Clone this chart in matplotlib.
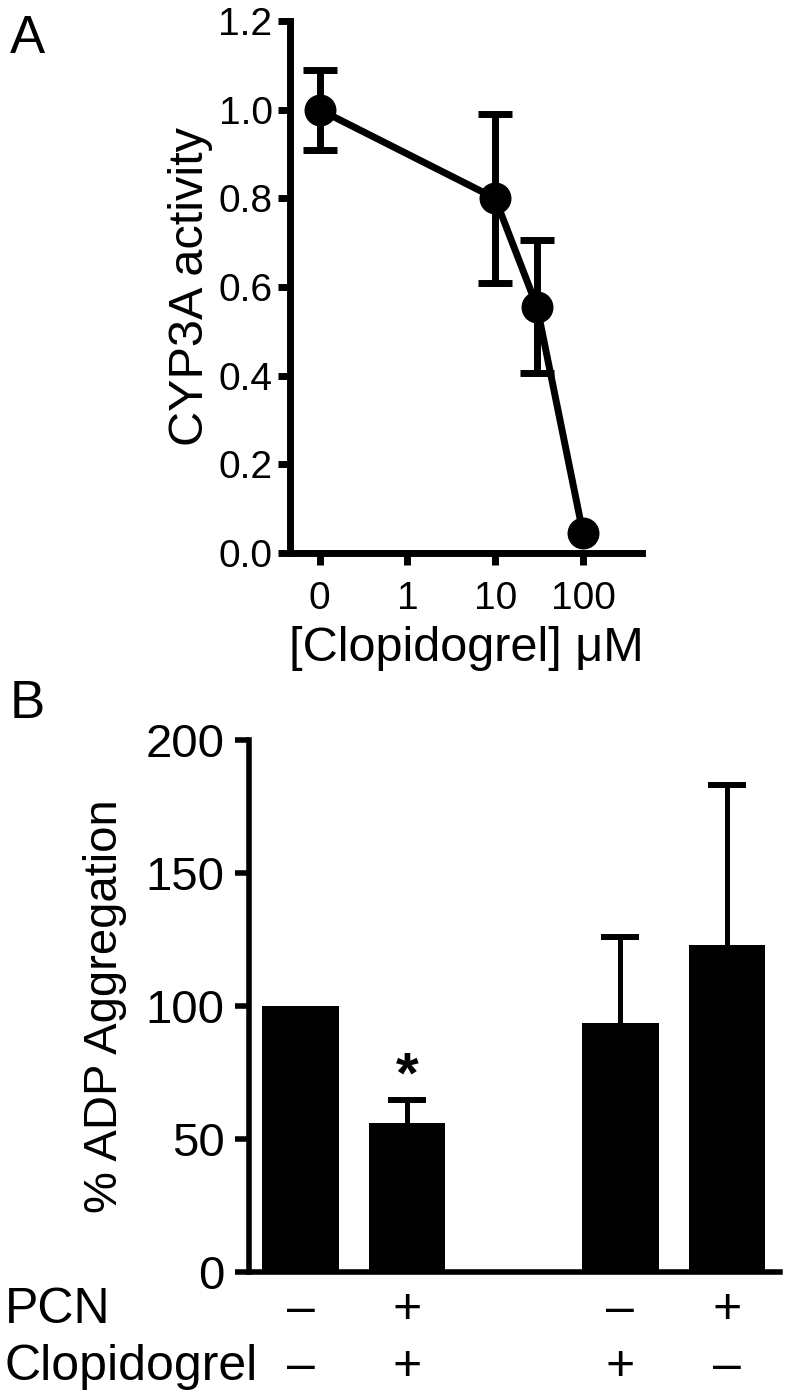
import numpy as np
import matplotlib
matplotlib.use("Agg")
import matplotlib.pyplot as plt
from matplotlib.ticker import FixedLocator, NullLocator

plt.rcParams['font.family'] = ['Liberation Sans', 'DejaVu Sans']

# panel A: CYP3A activity vs clopidogrel concentration
conc = [0, 10, 30, 100]
activity = [1.0, 0.80, 0.555, 0.045]
activity_err = [0.09, 0.19, 0.15, 0.0]
a_tick_vals = [0, 1, 10, 100]
a_yticks = [0.0, 0.2, 0.4, 0.6, 0.8, 1.0, 1.2]

# panel B: % ADP aggregation
bar_pos = [0, 1, 3, 4]
aggregation = [100, 56, 93.5, 123]
aggregation_err = [0, 8.5, 32.5, 60]
pcn = ['–', '+', '–', '+']
clopidogrel = ['–', '+', '+', '–']
b_yticks = [0, 50, 100, 150, 200]

zero_pos = 0.1  # where the "0" dose sits on the log axis


def xpos(c):
    return c if c > 0 else zero_pos


fig = plt.figure(figsize=(7.85, 13.97), dpi=100)

# ---- A ----
axA = fig.add_axes([0.3694, 0.6042, 0.4484, 0.3808])
x = np.array([xpos(c) for c in conc])
y = np.array(activity)
e = np.array(activity_err)
has_err = e > 0
axA.errorbar(x[has_err], y[has_err], yerr=e[has_err], fmt='none', ecolor='black',
             capsize=12.5, capthick=5, elinewidth=5)
axA.plot(x, y, color='black', lw=5, marker='o', ms=22)
axA.set_xscale('log')
axA.set_xlim(0.0461, 470)
axA.set_ylim(0, 1.2)
axA.xaxis.set_major_locator(FixedLocator([xpos(v) for v in a_tick_vals]))
axA.xaxis.set_minor_locator(NullLocator())
axA.set_xticklabels([str(v) for v in a_tick_vals])
axA.set_yticks(a_yticks)
axA.set_yticklabels(['%.1f' % v for v in a_yticks])
for s in ['top', 'right']:
    axA.spines[s].set_visible(False)
for s in ['left', 'bottom']:
    axA.spines[s].set_linewidth(5)
axA.tick_params(width=5, length=8.5, labelsize=28)
axA.tick_params(axis='y', pad=4)
axA.tick_params(axis='x', pad=12)
axA.set_ylabel('CYP3A activity', fontsize=35)
axA.yaxis.set_label_coords(-0.22, 0.5)
axA.set_xlabel('[Clopidogrel] μM', fontsize=35, labelpad=6)
fig.text(0.012, 0.962, 'A', fontsize=38)

# ---- B ----
axB = fig.add_axes([0.3178, 0.0898, 0.6758, 0.3805])
axB.bar(bar_pos, aggregation, width=0.72, color='black')
bp = np.array(bar_pos)
agg = np.array(aggregation)
aerr = np.array(aggregation_err)
m = aerr > 0
_, caps, _ = axB.errorbar(bp[m], agg[m], yerr=[np.zeros(m.sum()), aerr[m]], fmt='none',
                          ecolor='black', elinewidth=3.6, capsize=13.5, capthick=4.3)
caps[0].set_visible(False)  # no lower caps
axB.set_xlim(-0.478, 4.497)
axB.set_ylim(0, 200)
axB.set_yticks(b_yticks)
axB.set_xticks([])
for s in ['top', 'right']:
    axB.spines[s].set_visible(False)
for s in ['left', 'bottom']:
    axB.spines[s].set_linewidth(4)
axB.tick_params(axis='y', width=4, length=10, labelsize=34, pad=8)
axB.set_ylabel('% ADP Aggregation', fontsize=34)
axB.yaxis.set_label_coords(-0.23, 0.5)

# significance mark
axB.text(bar_pos[1], aggregation[1] + aggregation_err[1] - 1.5, '*',
         ha='center', va='bottom', fontsize=42, fontweight='bold')

# treatment rows
fig.text(0.006, 0.053, 'PCN', fontsize=36)
fig.text(0.006, 0.0122, 'Clopidogrel', fontsize=36)
tr = matplotlib.transforms.blended_transform_factory(axB.transData, fig.transFigure)
for p, a, b in zip(bar_pos, pcn, clopidogrel):
    axB.text(p, 0.053, a, transform=tr, ha='center', fontsize=36)
    axB.text(p, 0.0122, b, transform=tr, ha='center', fontsize=36)
fig.text(0.012, 0.486, 'B', fontsize=38)

fig.savefig('out.png', dpi=100)
